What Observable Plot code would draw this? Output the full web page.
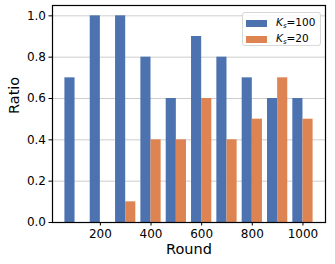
<!DOCTYPE html>
<html>
<head>
<meta charset="utf-8">
<script src="https://cdn.jsdelivr.net/npm/d3@7"></script>
<script src="https://cdn.jsdelivr.net/npm/@observablehq/plot@0.6"></script>
<style>
  html, body { margin: 0; padding: 0; background: #fff; }
  #wrap { position: relative; width: 335px; height: 264px; font-family: "DejaVu Sans", sans-serif; }
  #legend { position: absolute; left: 242px; top: 12px; width: 79px; height: 34px; border: 1px solid #d8d8d8; border-radius: 3px; background: rgba(255,255,255,0.85); box-sizing: border-box; font-size: 10.5px; }
  .item { position: absolute; left: 3px; display: flex; align-items: center; }
  .sw { width: 21px; height: 7px; margin-right: 9px; }
  .lab .k { font-style: italic; }
  .lab sub { font-size: 7px; font-style: italic; vertical-align: -2px; }
</style>
</head>
<body>
<div id="wrap"></div>
<script>
const rounds = [100, 200, 300, 400, 500, 600, 700, 800, 900, 1000];
const ks100 = [0.7, 1.0, 1.0, 0.8, 0.6, 0.9, 0.8, 0.7, 0.6, 0.6];
const ks20 = [0.0, 0.0, 0.1, 0.4, 0.4, 0.6, 0.4, 0.5, 0.7, 0.5];
const seriesNames = ["Ks=100", "Ks=20"];
const colors = ["#4c72b0", "#dd8452"];
const xTicks = [200, 400, 600, 800, 1000];
const yTicks = [0, 0.2, 0.4, 0.6, 0.8, 1.0];
const barWidth = 40;

const rows = [];
rounds.forEach((r, i) => {
  rows.push({round: r, series: seriesNames[0], value: ks100[i], off: -1});
  rows.push({round: r, series: seriesNames[1], value: ks20[i], off: 0});
});
const bars = rows.filter(d => d.value > 0);

const chart = Plot.plot({
  width: 335,
  height: 264,
  marginLeft: 52,
  marginRight: 10,
  marginTop: 5,
  marginBottom: 42,
  style: {fontFamily: "DejaVu Sans, sans-serif", fontSize: "12px", color: "#000", background: "#fff"},
  x: {domain: [11, 1089]},
  y: {domain: [0, 1.05]},
  color: {domain: seriesNames, range: colors},
  marks: [
    Plot.gridY(yTicks, {stroke: "#b0b0b0", strokeOpacity: 0.8, strokeWidth: 0.8}),
    Plot.rect(bars, {
      x1: d => d.round + d.off * barWidth,
      x2: d => d.round + (d.off + 1) * barWidth,
      y1: 0,
      y2: "value",
      fill: "series"
    }),
    Plot.frame({stroke: "#000", strokeWidth: 1.2}),
    Plot.axisX({ticks: xTicks, tickSize: 3.5, tickPadding: 3, fontSize: 12, label: null, tickFormat: d => String(d)}),
    Plot.axisY({ticks: yTicks, tickSize: 3.5, tickPadding: 3, fontSize: 12, label: null, tickFormat: d3.format(".1f")}),
    Plot.text(["Round"], {frameAnchor: "bottom", dy: 31, fontSize: 14.5, fill: "#000"}),
    Plot.text(["Ratio"], {frameAnchor: "left", dx: -38, rotate: -90, fontSize: 14.5, fill: "#000"})
  ]
});

const wrap = document.getElementById("wrap");
wrap.appendChild(chart);

const legend = document.createElement("div");
legend.id = "legend";
seriesNames.forEach((s, i) => {
  const item = document.createElement("div");
  item.className = "item";
  item.style.top = (i === 0 ? 3 : 19) + "px";
  const sw = document.createElement("div");
  sw.className = "sw";
  sw.style.background = colors[i];
  const lab = document.createElement("span");
  lab.className = "lab";
  lab.innerHTML = '<span class="k">K</span><sub>s</sub>=' + s.split("=")[1];
  item.appendChild(sw);
  item.appendChild(lab);
  legend.appendChild(item);
});
wrap.appendChild(legend);
</script>
</body>
</html>
